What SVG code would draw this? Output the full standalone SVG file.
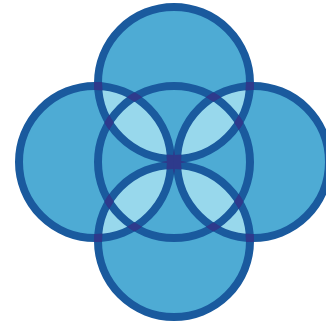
<svg xmlns="http://www.w3.org/2000/svg" xmlns:xlink="http://www.w3.org/1999/xlink" width="326" height="325" viewBox="0 0 326 325">
<style>
.fill{fill:#4eabd4}
.lens{fill:#98d8ec}
.ring{fill:none;stroke:#1a5a9e;stroke-width:8}
.cross{fill:none;stroke:#2e3a8c;stroke-width:8}
.mk{fill:none;stroke:#fff;stroke-width:8}
</style>
<defs>
<circle id="cC" cx="174" cy="162" r="76"/>
<circle id="cT" cx="174" cy="83" r="76"/>
<circle id="cL" cx="95" cy="162" r="76"/>
<circle id="cR" cx="253" cy="162" r="76"/>
<circle id="cB" cx="174" cy="241" r="76"/>
<clipPath id="clipT"><use xlink:href="#cT"/></clipPath>
<clipPath id="clipB"><use xlink:href="#cB"/></clipPath>
<mask id="mC" maskUnits="userSpaceOnUse" x="0" y="0" width="326" height="325"><g class="mk"><use xlink:href="#cT"/><use xlink:href="#cL"/><use xlink:href="#cR"/><use xlink:href="#cB"/></g></mask>
<mask id="mT" maskUnits="userSpaceOnUse" x="0" y="0" width="326" height="325"><g class="mk"><use xlink:href="#cC"/><use xlink:href="#cL"/><use xlink:href="#cR"/><use xlink:href="#cB"/></g></mask>
<mask id="mB" maskUnits="userSpaceOnUse" x="0" y="0" width="326" height="325"><g class="mk"><use xlink:href="#cC"/><use xlink:href="#cL"/><use xlink:href="#cR"/><use xlink:href="#cT"/></g></mask>
<mask id="mL" maskUnits="userSpaceOnUse" x="0" y="0" width="326" height="325"><g class="mk"><use xlink:href="#cC"/><use xlink:href="#cT"/><use xlink:href="#cR"/><use xlink:href="#cB"/></g></mask>
<mask id="mR" maskUnits="userSpaceOnUse" x="0" y="0" width="326" height="325"><g class="mk"><use xlink:href="#cC"/><use xlink:href="#cT"/><use xlink:href="#cL"/><use xlink:href="#cB"/></g></mask>
</defs>
<g id="fills" class="fill">
<use xlink:href="#cC"/><use xlink:href="#cT"/><use xlink:href="#cL"/><use xlink:href="#cR"/><use xlink:href="#cB"/>
</g>
<g id="lenses" class="lens">
<use xlink:href="#cL" clip-path="url(#clipT)"/>
<use xlink:href="#cR" clip-path="url(#clipT)"/>
<use xlink:href="#cL" clip-path="url(#clipB)"/>
<use xlink:href="#cR" clip-path="url(#clipB)"/>
</g>
<g id="circle-center"><use xlink:href="#cC" class="ring"/></g>
<g id="circle-top"><use xlink:href="#cT" class="ring"/></g>
<g id="circle-left"><use xlink:href="#cL" class="ring"/></g>
<g id="circle-right"><use xlink:href="#cR" class="ring"/></g>
<g id="circle-bottom"><use xlink:href="#cB" class="ring"/></g>
<g id="crossings" class="cross">
<use xlink:href="#cC" mask="url(#mC)"/>
<use xlink:href="#cT" mask="url(#mT)"/>
<use xlink:href="#cB" mask="url(#mB)"/>
<use xlink:href="#cL" mask="url(#mL)"/>
<use xlink:href="#cR" mask="url(#mR)"/>
</g>
</svg>
